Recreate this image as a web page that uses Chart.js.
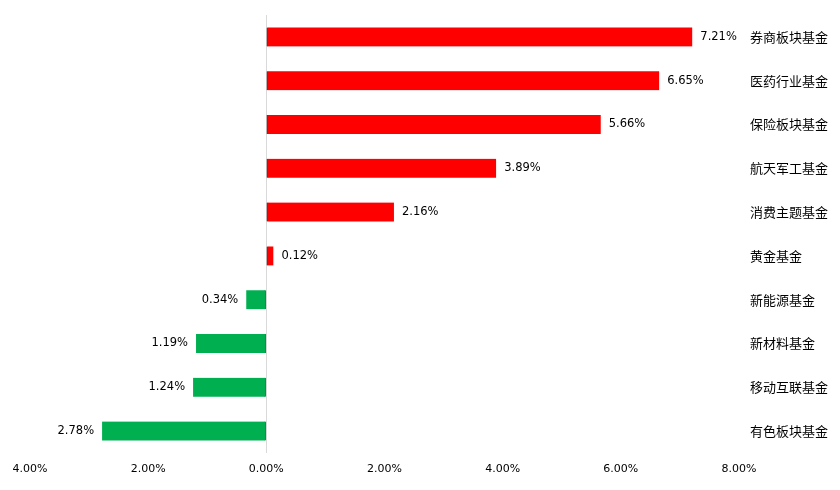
<!DOCTYPE html>
<html>
<head>
<meta charset="utf-8">
<script src="https://cdn.jsdelivr.net/npm/chart.js@4/dist/chart.umd.min.js"></script>
<style>
html,body{margin:0;padding:0;background:#fff;}
#wrap{width:840px;height:490px;position:relative;}
</style>
</head>
<body>
<div id="wrap"><canvas id="c" width="840" height="490"></canvas></div>
<script>
const categories = ['券商板块基金','医药行业基金','保险板块基金','航天军工基金','消费主题基金','黄金基金','新能源基金','新材料基金','移动互联基金','有色板块基金'];
const values = [7.21, 6.65, 5.66, 3.89, 2.16, 0.12, -0.34, -1.19, -1.24, -2.78];
const tickValues = [-4, -2, 0, 2, 4, 6, 8];

const NUM_FONT = '"DejaVu Sans", Verdana, sans-serif';
const CJK_FONT = '"Noto Sans CJK SC", sans-serif';

const labelPlugin = {
  id: 'valLabels',
  afterDatasetsDraw(chart) {
    const ctx = chart.ctx;
    const meta = chart.getDatasetMeta(0);
    ctx.save();
    ctx.font = '11.5px ' + NUM_FONT;
    ctx.fillStyle = '#000';
    ctx.textBaseline = 'middle';
    meta.data.forEach((bar, i) => {
      const v = values[i];
      const txt = Math.abs(v).toFixed(2) + '%';
      if (v >= 0) {
        ctx.textAlign = 'left';
        ctx.fillText(txt, bar.x + 8, bar.y);
      } else {
        ctx.textAlign = 'right';
        ctx.fillText(txt, bar.x - 8, bar.y);
      }
    });
    ctx.restore();
  }
};

new Chart(document.getElementById('c'), {
  type: 'bar',
  data: {
    labels: categories,
    datasets: [{
      data: values,
      backgroundColor: values.map(v => v >= 0 ? '#FF0000' : '#00B050'),
      borderColor: values.map(v => v >= 0 ? '#5a3030' : '#4a6a4a'),
      borderWidth: values.map(v => v >= 0 ? {left: 1, right: 0, top: 0, bottom: 0} : {left: 0, right: 1, top: 0, bottom: 0}),
      borderSkipped: false,
      barThickness: 19
    }]
  },
  options: {
    indexAxis: 'y',
    responsive: false,
    animation: false,
    layout: {padding: {left: 30, top: 15, right: 0, bottom: 0}},
    plugins: {legend: {display: false}, tooltip: {enabled: false}},
    scales: {
      x: {
        min: -4, max: 8,
        afterBuildTicks(scale) { scale.ticks = tickValues.map(v => ({value: v})); },
        afterFit(scale) { scale.height = 37; },
        grid: {
          drawTicks: false,
          color: ctx => (ctx.tick && ctx.tick.value === 0) ? '#d9d9d9' : 'rgba(0,0,0,0)',
          lineWidth: 1
        },
        border: {display: false},
        ticks: {
          padding: 10,
          color: '#000',
          font: {family: NUM_FONT, size: 11},
          maxRotation: 0,
          callback: v => Math.abs(v).toFixed(2) + '%'
        }
      },
      y: {
        position: 'right',
        afterFit(scale) { scale.width = 101; scale.paddingTop = 0; scale.paddingBottom = 0; },
        grid: {display: false, drawTicks: false},
        border: {display: false},
        ticks: {
          padding: 11,
          color: '#000',
          font: {family: CJK_FONT, size: 13}
        }
      }
    }
  },
  plugins: [labelPlugin]
});
</script>
</body>
</html>
